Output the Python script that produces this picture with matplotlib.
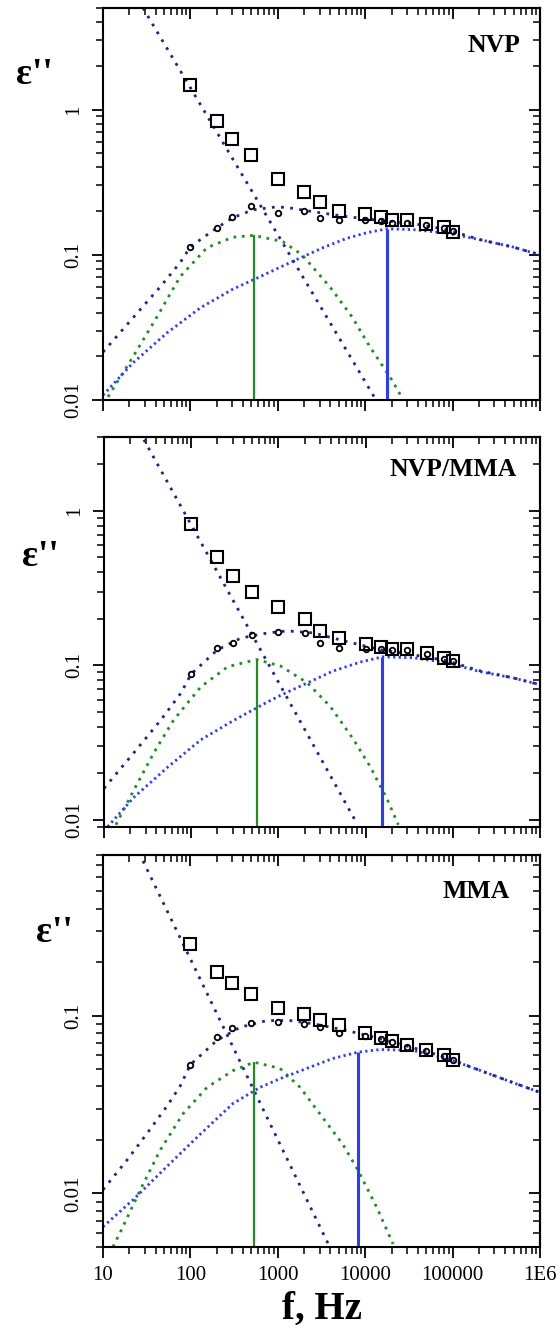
import matplotlib
matplotlib.use("Agg")
import matplotlib.pyplot as plt
from matplotlib.ticker import LogLocator, FuncFormatter, NullFormatter

# frequencies of the measured points (Hz)
freq = [100, 200, 300, 500, 1000, 2000, 3000, 5000, 10000, 15000, 20000, 30000, 50000, 80000, 100000]

# ---- NVP ----
nvp_sq = [1.48, 0.83, 0.63, 0.49, 0.33, 0.27, 0.23, 0.20, 0.19, 0.183, 0.174, 0.174, 0.164, 0.156, 0.144]
nvp_circ = [0.113, 0.153, 0.183, 0.218, 0.195, 0.20, 0.18, 0.174, 0.174, 0.17, 0.166, 0.165, 0.16, 0.154, 0.145]
nvp_cond_f = [28.7, 13300]
nvp_cond_v = [5.0, 0.0100]
nvp_tot_f = [10, 15.6, 26.5, 45, 76, 100, 200, 306, 520, 980, 1380, 2530, 6200, 15000, 35200, 86300, 206000, 491000, 1e6]
nvp_tot_v = [0.0214, 0.029, 0.0418, 0.060, 0.088, 0.1135, 0.153, 0.18, 0.204, 0.214, 0.21, 0.198, 0.183, 0.172, 0.164, 0.149, 0.127, 0.113, 0.1]
nvp_g_f = [11.4, 22, 41.5, 76, 155, 306, 534, 1145, 1892, 3955, 7060, 11350, 20270, 27000]
nvp_g_v = [0.0105, 0.0198, 0.0374, 0.0705, 0.112, 0.132, 0.136, 0.123, 0.1, 0.06, 0.0374, 0.0232, 0.0137, 0.0101]
nvp_b_f = [10, 22, 54, 129, 306, 576, 1060, 1800, 3300, 6200, 10500, 17800, 35200, 86300, 206000, 491000, 1e6]
nvp_b_v = [0.0108, 0.018, 0.029, 0.043, 0.058, 0.069, 0.082, 0.095, 0.112, 0.13, 0.142, 0.151, 0.149, 0.141, 0.127, 0.113, 0.1]
nvp_peak_f = [534, 17800]
nvp_peak_v = [0.136, 0.151]

# ---- NVP/MMA ----
cop_sq = [0.82, 0.50, 0.38, 0.30, 0.24, 0.20, 0.167, 0.151, 0.138, 0.132, 0.128, 0.128, 0.12, 0.112, 0.107]
cop_circ = [0.088, 0.13, 0.14, 0.157, 0.165, 0.162, 0.14, 0.13, 0.128, 0.127, 0.125, 0.125, 0.118, 0.11, 0.106]
cop_cond_f = [28.7, 7850]
cop_cond_v = [2.88, 0.0096]
cop_tot_f = [10, 22, 45, 76, 100, 200, 370, 752, 1270, 2530, 6200, 15000, 35200, 86300, 206000, 491000, 1e6]
cop_tot_v = [0.016, 0.0272, 0.0444, 0.066, 0.088, 0.126, 0.15, 0.162, 0.167, 0.162, 0.142, 0.126, 0.117, 0.107, 0.092, 0.083, 0.075]
cop_g_f = [13.7, 22, 37.3, 63, 129, 262, 563, 1060, 2150, 3955, 7300, 11350, 17800, 23700]
cop_g_v = [0.0093, 0.0156, 0.0272, 0.0444, 0.0726, 0.098, 0.109, 0.099, 0.077, 0.054, 0.033, 0.022, 0.0135, 0.0093]
cop_b_f = [10, 22, 54, 129, 306, 752, 1060, 2150, 4260, 8720, 15600, 35200, 86300, 206000, 491000, 1e6]
cop_b_v = [0.0085, 0.014, 0.022, 0.033, 0.044, 0.058, 0.064, 0.077, 0.092, 0.105, 0.1135, 0.112, 0.104, 0.091, 0.083, 0.075]
cop_peak_f = [563, 15600]
cop_peak_v = [0.109, 0.1135]

# ---- MMA ----
mma_sq = [0.252, 0.176, 0.153, 0.132, 0.111, 0.102, 0.0946, 0.088, 0.0795, 0.075, 0.0724, 0.068, 0.0637, 0.0597, 0.056]
mma_circ = [0.053, 0.0755, 0.085, 0.091, 0.0925, 0.09, 0.086, 0.08, 0.077, 0.074, 0.071, 0.067, 0.063, 0.059, 0.056]
mma_cond_f = [28.7, 3850]
mma_cond_v = [0.74, 0.0051]
mma_tot_f = [10, 18.8, 31.8, 54, 76, 100, 200, 370, 752, 1380, 2530, 6200, 15000, 35200, 72000, 206000, 491000, 1e6]
mma_tot_v = [0.0105, 0.0154, 0.0217, 0.031, 0.040, 0.053, 0.0724, 0.086, 0.0938, 0.0938, 0.09, 0.0824, 0.074, 0.066, 0.0597, 0.0492, 0.042, 0.037]
mma_g_f = [13, 16.9, 26.5, 45, 82, 155, 306, 534, 1060, 1800, 3300, 5500, 8280, 13650, 20800]
mma_g_v = [0.005, 0.0065, 0.0104, 0.0175, 0.028, 0.0395, 0.049, 0.0547, 0.0505, 0.0395, 0.0265, 0.019, 0.0135, 0.0083, 0.0052]
mma_b_f = [10, 22, 54, 129, 306, 625, 1060, 2150, 4260, 8280, 15000, 35200, 86300, 206000, 491000, 1e6]
mma_b_v = [0.0065, 0.0092, 0.0142, 0.0215, 0.032, 0.0395, 0.0442, 0.0505, 0.0574, 0.0623, 0.0645, 0.0637, 0.0574, 0.0492, 0.042, 0.037]
mma_peak_f = [534, 8280]
mma_peak_v = [0.0547, 0.0623]

panels = [
    dict(name="NVP", sq=nvp_sq, circ=nvp_circ, cf=nvp_cond_f, cv=nvp_cond_v,
         tf=nvp_tot_f, tv=nvp_tot_v, gf=nvp_g_f, gv=nvp_g_v, bf=nvp_b_f, bv=nvp_b_v,
         pf=nvp_peak_f, pv=nvp_peak_v, ylim=(0.01, 5.0), yt=[0.01, 0.1, 1]),
    dict(name="NVP/MMA", sq=cop_sq, circ=cop_circ, cf=cop_cond_f, cv=cop_cond_v,
         tf=cop_tot_f, tv=cop_tot_v, gf=cop_g_f, gv=cop_g_v, bf=cop_b_f, bv=cop_b_v,
         pf=cop_peak_f, pv=cop_peak_v, ylim=(0.009, 3.0), yt=[0.01, 0.1, 1]),
    dict(name="MMA", sq=mma_sq, circ=mma_circ, cf=mma_cond_f, cv=mma_cond_v,
         tf=mma_tot_f, tv=mma_tot_v, gf=mma_g_f, gv=mma_g_v, bf=mma_b_f, bv=mma_b_v,
         pf=mma_peak_f, pv=mma_peak_v, ylim=(0.005, 0.8), yt=[0.01, 0.1]),
]

xticks = [10, 100, 1000, 10000, 100000, 1e6]
xlabels = ["10", "100", "1000", "10000", "100000", "1E6"]

NAVY = "#22228c"
BLUE = "#2a3cff"
GREEN = "#1f8f1f"
SERIF = "Liberation Serif"

W, H = 560, 1330
# pixel boxes (left, top, right, bottom) for each panel
boxes = [(103, 8, 540, 400), (104, 437, 540, 827), (103, 855, 540, 1247)]
ylab_pos = [(34, 75), (40, 557), (54, 933)]
name_pos = [(520, 45), (517, 470), (510, 892)]

fig = plt.figure(figsize=(W / 100, H / 100), dpi=100)

for i, (p, b) in enumerate(zip(panels, boxes)):
    l, t, r, bt = b
    ax = fig.add_axes([l / W, 1 - bt / H, (r - l) / W, (bt - t) / H])
    ax.set_xscale("log")
    ax.set_yscale("log")
    ax.set_xlim(10, 1e6)
    ax.set_ylim(*p["ylim"])

    ax.plot(p["cf"], p["cv"], color=NAVY, lw=2.0, ls=(0, (1, 2.3)))
    ax.plot(p["gf"], p["gv"], color=GREEN, lw=2.0, ls=(0, (1, 2.0)))
    ax.plot(p["bf"], p["bv"], color=BLUE, lw=2.0, ls=(0, (0.8, 1.2)))
    ax.plot(p["tf"], p["tv"], color=NAVY, lw=2.0, ls=(0, (1, 2.3)))
    ax.vlines(p["pf"][0], p["ylim"][0], p["pv"][0], color=GREEN, lw=1.6)
    ax.vlines(p["pf"][1], p["ylim"][0], p["pv"][1], color=BLUE, lw=2.2)

    ax.plot(freq, p["circ"], ls="none", marker="o", ms=4, mfc="none", mec="black", mew=1.3, zorder=5)
    ax.plot(freq, p["sq"], ls="none", marker="s", ms=8, mfc="none", mec="black", mew=1.5, zorder=6)

    for s in ax.spines.values():
        s.set_linewidth(1.5)

    ax.xaxis.set_major_locator(LogLocator(base=10, numticks=20))
    ax.xaxis.set_minor_locator(LogLocator(base=10, subs=range(2, 10), numticks=20))
    ax.yaxis.set_major_locator(LogLocator(base=10, numticks=20))
    ax.yaxis.set_minor_locator(LogLocator(base=10, subs=range(2, 10), numticks=20))
    ax.set_yticks(p["yt"])
    ax.yaxis.set_major_formatter(FuncFormatter(lambda v, pos: "%g" % v))
    ax.yaxis.set_minor_formatter(NullFormatter())
    ax.set_ylim(*p["ylim"])
    ax.tick_params(which="major", length=8, width=1.3, direction="out", pad=6)
    ax.tick_params(which="minor", length=5, width=1.1, direction="out")
    ax.tick_params(axis="y", labelrotation=90, labelsize=15)
    for lab in ax.get_yticklabels():
        lab.set_family(SERIF)
        lab.set_va("center")

    if i == 2:
        ax.set_xticks(xticks, xlabels)
        ax.tick_params(axis="x", labelsize=15)
        for lab in ax.get_xticklabels():
            lab.set_family(SERIF)
        ax.set_xlabel("f, Hz", fontsize=28, fontweight="bold", family=SERIF, labelpad=4)
    else:
        ax.set_xticks(xticks)
        ax.tick_params(axis="x", labelbottom=False)
    ax.set_xlim(10, 1e6)

    # ticks on top / right point inward
    top = ax.secondary_xaxis("top")
    top.set_xticks(xticks)
    top.xaxis.set_minor_locator(LogLocator(base=10, subs=range(2, 10), numticks=20))
    top.tick_params(which="major", direction="in", length=8, width=1.3, labeltop=False)
    top.tick_params(which="minor", direction="in", length=5, width=1.1)
    top.xaxis.set_minor_formatter(NullFormatter())
    top.spines["top"].set_linewidth(1.5)
    right = ax.secondary_yaxis("right")
    right.set_yticks(p["yt"])
    right.yaxis.set_minor_locator(LogLocator(base=10, subs=range(2, 10), numticks=20))
    right.tick_params(which="major", direction="in", length=8, width=1.3, labelright=False)
    right.tick_params(which="minor", direction="in", length=5, width=1.1)
    right.yaxis.set_minor_formatter(NullFormatter())
    right.spines["right"].set_linewidth(1.5)

    fig.text(ylab_pos[i][0] / W, 1 - ylab_pos[i][1] / H, "\u03b5''", fontsize=27,
             fontweight="bold", family=SERIF, ha="center", va="center")
    fig.text(name_pos[i][0] / W, 1 - name_pos[i][1] / H, p["name"], fontsize=18.5,
             fontweight="bold", family=SERIF, ha="right", va="center")

fig.savefig("out.png", dpi=100)
